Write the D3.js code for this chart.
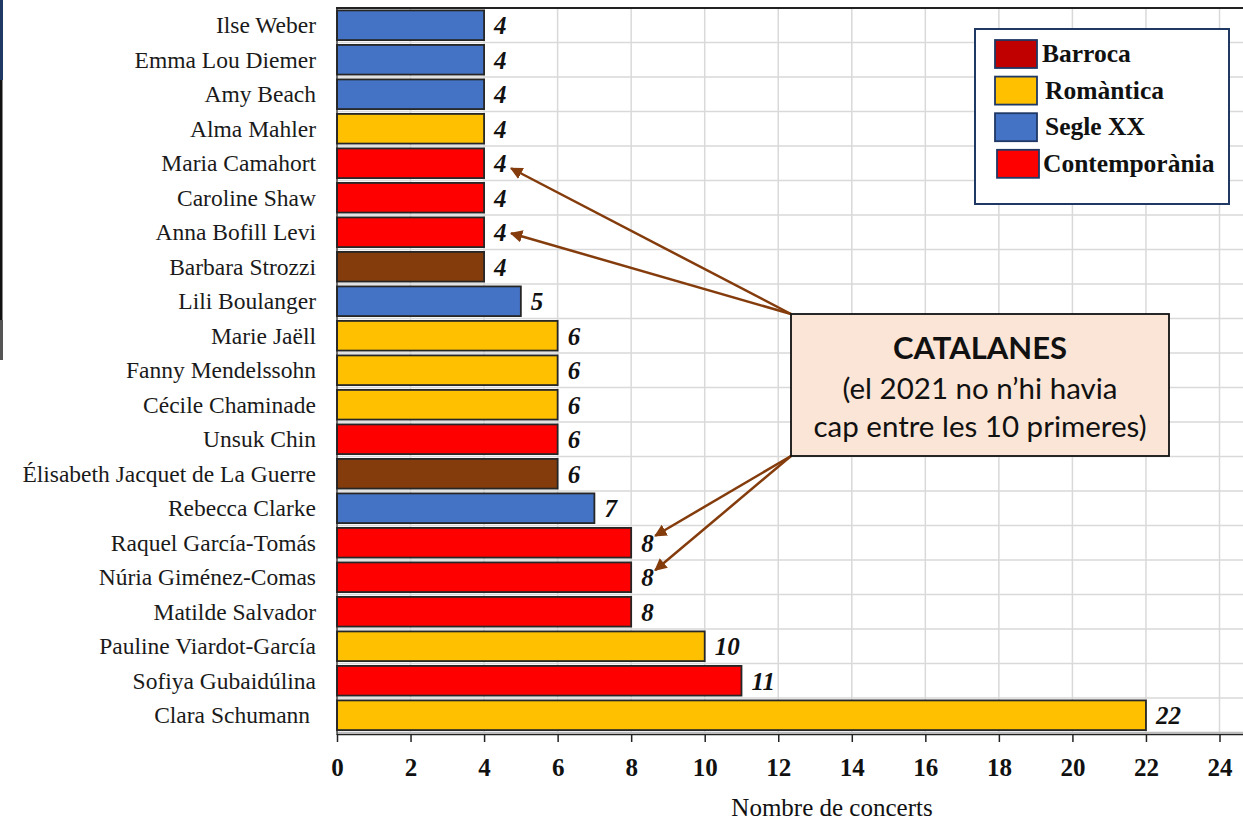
<!DOCTYPE html>
<html>
<head>
<meta charset="utf-8">
<title>Compositores</title>
<script src="https://d3js.org/d3.v7.min.js"></script>
<style>
  body { margin: 0; background: #fff; }
  svg text { font-family: 'Liberation Serif', 'Times New Roman', serif; }
  .cat { font-size: 23.5px; fill: #1a1a1a; white-space: pre; }
  .val { font-size: 25px; font-weight: bold; font-style: italic; fill: #111; }
  .tick text { font-size: 25px; font-weight: bold; fill: #111; }
  .leg { font-size: 25.5px; font-weight: bold; fill: #111; }
  .note { font-family: Lato, 'Open Sans', sans-serif; fill: #111; }
</style>
</head>
<body>
<script>
// dades (de dalt a baix)
var names = ["Ilse Weber", "Emma Lou Diemer", "Amy Beach", "Alma Mahler", "Maria Camahort",
  "Caroline Shaw", "Anna Bofill Levi", "Barbara Strozzi", "Lili Boulanger", "Marie Jaëll",
  "Fanny Mendelssohn", "Cécile Chaminade", "Unsuk Chin", "Élisabeth Jacquet de La Guerre",
  "Rebecca Clarke", "Raquel García-Tomás", "Núria Giménez-Comas", "Matilde Salvador",
  "Pauline Viardot-García", "Sofiya Gubaidúlina", "Clara Schumann "];
var concerts = [4, 4, 4, 4, 4, 4, 4, 4, 5, 6, 6, 6, 6, 6, 7, 8, 8, 8, 10, 11, 22];
var periods = ["Segle XX", "Segle XX", "Segle XX", "Romàntica", "Contemporània",
  "Contemporània", "Contemporània", "Barroca", "Segle XX", "Romàntica",
  "Romàntica", "Romàntica", "Contemporània", "Barroca",
  "Segle XX", "Contemporània", "Contemporània", "Contemporània",
  "Romàntica", "Contemporània", "Romàntica"];
var legendNames = ["Barroca", "Romàntica", "Segle XX", "Contemporània"];
var legendColors = ["#c00000", "#ffc000", "#4472c4", "#ff0000"];
var barColors = { "Barroca": "#843c0c", "Romàntica": "#ffc000", "Segle XX": "#4472c4", "Contemporània": "#ff0000" };
var xTicks = d3.range(0, 25, 2);
var catalanes = ["Maria Camahort", "Anna Bofill Levi", "Raquel García-Tomás", "Núria Giménez-Comas"];

var data = names.map(function (n, i) {
  return { name: n, value: concerts[i], period: periods[i] };
});

var w = 1243, h = 823;
var svg = d3.select("body").append("svg")
  .attr("width", w).attr("height", h);

var x = d3.scaleLinear().domain([0, 24]).range([337, 1219.5]);
var y = d3.scaleBand().domain(names).range([8, 732.5])
  .paddingInner(0.14).paddingOuter(0.07);
var step = y.step();

// vora esquerra
svg.append("rect").attr("x", 0).attr("y", 0).attr("width", 3).attr("height", 80).attr("fill", "#1f3864");
svg.append("rect").attr("x", 0).attr("y", 80).attr("width", 2.5).attr("height", 240).attr("fill", "#111");
svg.append("rect").attr("x", 0).attr("y", 320).attr("width", 3).attr("height", 40).attr("fill", "#555");

// graella
var grid = svg.append("g").attr("stroke", "#d9d9d9").attr("stroke-width", 1.5);
grid.selectAll("line.v").data(xTicks).enter().append("line")
  .attr("x1", function (d) { return x(d); }).attr("x2", function (d) { return x(d); })
  .attr("y1", 8).attr("y2", 732);
grid.selectAll("line.h").data(names.slice(1)).enter().append("line")
  .attr("x1", 337).attr("x2", w)
  .attr("y1", function (d) { return y(d) - step * 0.07; })
  .attr("y2", function (d) { return y(d) - step * 0.07; });

// vora superior
svg.append("line").attr("x1", 336).attr("x2", w).attr("y1", 8).attr("y2", 8)
  .attr("stroke", "#222").attr("stroke-width", 2);

// barres
svg.append("g").selectAll("rect").data(data).enter().append("rect")
  .attr("x", x(0))
  .attr("y", function (d) { return y(d.name); })
  .attr("width", function (d) { return x(d.value) - x(0); })
  .attr("height", y.bandwidth())
  .attr("fill", function (d) { return barColors[d.period]; })
  .attr("stroke", "#262626").attr("stroke-width", 1.8);

// etiquetes de valor
svg.append("g").selectAll("text").data(data).enter().append("text")
  .attr("class", "val")
  .attr("x", function (d) { return x(d.value) + 10; })
  .attr("y", function (d) { return y(d.name) + y.bandwidth() / 2 + 9; })
  .text(function (d) { return d.value; });

// noms
svg.append("g").selectAll("text").data(data).enter().append("text")
  .attr("class", "cat")
  .attr("x", 316).attr("text-anchor", "end")
  .attr("y", function (d) { return y(d.name) + y.bandwidth() / 2 + 8; })
  .text(function (d) { return d.name; });

// eix x
svg.append("line").attr("x1", 337).attr("x2", w).attr("y1", 732.5).attr("y2", 732.5)
  .attr("stroke", "#bbb").attr("stroke-width", 1.5);
svg.append("line").attr("x1", 337).attr("x2", w).attr("y1", 734.5).attr("y2", 734.5)
  .attr("stroke", "#222").attr("stroke-width", 1.5);
var xAxis = svg.append("g").attr("transform", "translate(0,734)")
  .call(d3.axisBottom(x).tickValues(xTicks).tickSize(8).tickPadding(16));
xAxis.select(".domain").remove();
xAxis.selectAll(".tick line").attr("stroke", "#222").attr("stroke-width", 1.5);
xAxis.selectAll(".tick text").attr("dy", "0.71em").attr("y", 24);

svg.append("line").attr("x1", 337).attr("x2", 337).attr("y1", 8).attr("y2", 735)
  .attr("stroke", "#222").attr("stroke-width", 1.2);

svg.append("text").attr("x", 832).attr("y", 816).attr("text-anchor", "middle")
  .style("font-size", "25px").attr("fill", "#111").text("Nombre de concerts");

// llegenda
var leg = svg.append("g");
leg.append("rect").attr("x", 975).attr("y", 29).attr("width", 254).attr("height", 175)
  .attr("fill", "#fff").attr("stroke", "#1f3864").attr("stroke-width", 2);
var items = leg.selectAll("g.item").data(legendNames).enter().append("g")
  .attr("transform", function (d, i) { return "translate(995," + (40 + i * 36.6) + ")"; });
items.append("rect").attr("width", 42).attr("height", 28)
  .attr("x", function (d, i) { return i == 3 ? 2 : 0; })
  .attr("fill", function (d, i) { return legendColors[i]; })
  .attr("stroke", "#1f3864").attr("stroke-width", 1.8);
items.append("text").attr("class", "leg")
  .attr("x", function (d, i) { return i == 0 ? 47 : (i == 3 ? 48 : 50); })
  .attr("y", 22)
  .text(function (d) { return d; });

// fletxes
var defs = svg.append("defs");
defs.append("marker").attr("id", "arr").attr("viewBox", "0 0 10 10")
  .attr("refX", 9).attr("refY", 5).attr("markerWidth", 5).attr("markerHeight", 5)
  .attr("markerUnits", "strokeWidth").attr("orient", "auto")
  .append("path").attr("d", "M0,0 L10,5 L0,10 Z").attr("fill", "#843c0c");

var boxX = 791, boxTop = 314, boxBottom = 456;
var tipOffsets = [5, 1, -7, -7];
svg.append("g").selectAll("line").data(catalanes).enter().append("line")
  .attr("x1", boxX).attr("y1", function (d, i) { return i < 2 ? boxTop : boxBottom; })
  .attr("x2", function (d) { return x(concerts[names.indexOf(d)]) + (concerts[names.indexOf(d)] < 6 ? 27 : 24); })
  .attr("y2", function (d, i) { return y(d) + y.bandwidth() / 2 + tipOffsets[i]; })
  .attr("stroke", "#843c0c").attr("stroke-width", 2.5)
  .attr("marker-end", "url(#arr)");

// quadre de text
svg.append("rect").attr("x", boxX).attr("y", boxTop).attr("width", 378).attr("height", boxBottom - boxTop)
  .attr("fill", "#fbe5d6").attr("stroke", "#111").attr("stroke-width", 1.8);
svg.append("text").attr("class", "note").attr("x", 980).attr("y", 359).attr("text-anchor", "middle")
  .style("font-size", "31px").style("font-weight", "bold").text("CATALANES");
svg.append("text").attr("class", "note").attr("x", 980).attr("y", 399).attr("text-anchor", "middle")
  .style("font-size", "29.5px").text("(el 2021 no n’hi havia");
svg.append("text").attr("class", "note").attr("x", 980).attr("y", 437).attr("text-anchor", "middle")
  .style("font-size", "29.5px").text("cap entre les 10 primeres)");
</script>
</body>
</html>
